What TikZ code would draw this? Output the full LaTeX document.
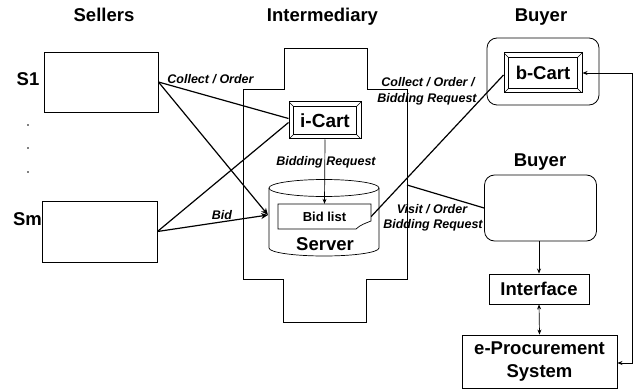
\documentclass[tikz,border=0pt]{standalone}
\usepackage{fontspec}
\setmainfont{Liberation Sans}
\usetikzlibrary{arrows.meta}
\begin{document}
\begin{tikzpicture}[x=1pt,y=-1pt,
  big/.style={font=\fontsize{18.5}{23}\selectfont\bfseries},
  lab/.style={font=\fontsize{12.5}{14}\selectfont\bfseries\itshape, inner sep=0pt, anchor=base},
  box/.style={draw, line width=0.9pt, inner sep=0pt},
  conn/.style={line width=1.2pt},
  thinl/.style={line width=0.7pt},
  tip/.style={-{Stealth[length=7pt,width=6pt]}},
  smalltip/.style={-{Stealth[length=5pt,width=4pt]}},
  bevel/.style={draw, line width=1pt, inner sep=0pt, path picture={
    \draw[line width=0.8pt] ([shift={(4.5pt,-4.5pt)}]path picture bounding box.north west) rectangle ([shift={(-4.5pt,4.5pt)}]path picture bounding box.south east);
    \draw[line width=0.6pt] (path picture bounding box.north west) -- ++(4.5pt,-4.5pt);
    \draw[line width=0.6pt] (path picture bounding box.north east) -- ++(-4.5pt,-4.5pt);
    \draw[line width=0.6pt] (path picture bounding box.south west) -- ++(4.5pt,4.5pt);
    \draw[line width=0.6pt] (path picture bounding box.south east) -- ++(-4.5pt,4.5pt);
  }},
]
\useasboundingbox (0,0) rectangle (639,390);

% titles
\node[big, anchor=base] (tS) at (104,22) {Sellers};
\node[big, anchor=base] (tI) at (322.5,22) {Intermediary};
\node[big, anchor=base] (tB1) at (541,22) {Buyer};
\node[big, anchor=base] (tB2) at (540,167) {Buyer};

% sellers
\node[box, minimum width=114pt, minimum height=60pt] (s1) at (101,82) {};
\node[box, minimum width=115pt, minimum height=61pt] (sm) at (99.5,231.5) {};
\node[big, anchor=base] (s1l) at (28,86) {S1};
\node[big, anchor=base] (sml) at (27.5,225) {Sm};
\fill (28,125) circle (0.9pt);
\fill (28,148) circle (0.9pt);
\fill (28,172) circle (0.9pt);

% intermediary outline
\draw[thinl] (243,89) -- (284,89) -- (284,48) -- (367,48) -- (367,89) -- (407,89)
  -- (407,279) -- (366,279) -- (366,322) -- (283,322) -- (283,279) -- (243,279) -- cycle;

% server cylinder
\draw[thinl] (269,188) -- (269,248) arc[start angle=180, end angle=360, x radius=55pt, y radius=8pt] -- (379,188);
\draw[thinl] (324,188) ellipse [x radius=55pt, y radius=8.5pt];
\node[big, anchor=base] (srv) at (325,250) {Server};
\coordinate (srvin) at (268,215);

% bid list
\node[inner sep=0pt, minimum width=93pt, minimum height=25pt,
      font=\fontsize{13}{14}\selectfont\bfseries] (bidlist) at (324.5,216.5) {Bid list};
\draw[thinl] (278,204) -- (371,204) -- (371,221) .. controls (366,223) and (360,225) .. (356,229) -- (278,229) -- cycle;

% i-Cart
\node[bevel, minimum width=72pt, minimum height=37pt, big, font=\fontsize{19}{20}\selectfont\bfseries] (icart) at (325,120.5) {i-Cart};

% buyers
\node[draw, line width=0.8pt, rounded corners=10pt, minimum width=112pt, minimum height=67pt] (buyerA) at (543,71.5) {};
\node[bevel, minimum width=78pt, minimum height=40pt, big] (bcart) at (543,73) {b-Cart};
\node[draw, line width=0.8pt, rounded corners=10pt, minimum width=112pt, minimum height=66pt] (buyerB) at (540.5,208) {};
\node[box, minimum width=100pt, minimum height=30pt, big] (iface) at (539,289) {Interface};
\node[box, minimum width=155pt, minimum height=53pt, big, align=center] (eproc) at (539.5,361.5) {e-Procurement\\System};

% connectors
\draw[conn] (s1.east) -- ([yshift=2pt]icart.west);
\draw[conn,tip] (s1.east) -- (srvin);
\draw[conn] (sm.east) -- ([yshift=-2pt]icart.west);
\draw[conn,tip] (sm.east) -- (srvin);
\draw[thinl,smalltip] (icart.south) -- (bidlist.north);
\draw[conn] (bidlist.east) -- ([yshift=-2pt]bcart.west);
\coordinate (wall) at (407,185);
\draw[conn] (wall) -- (buyerB.west);
\draw[thinl,smalltip] (iface.north |- buyerB.south) -- (iface.north);
\draw[thinl,{Stealth[length=5pt,width=4pt]}-{Stealth[length=5pt,width=4pt]}] (iface.south) -- (eproc.north);
\coordinate (rtop) at (632,0);
\draw[thinl,{Stealth[length=5pt,width=4pt]}-{Stealth[length=5pt,width=4pt]}] (bcart.east) -- (bcart.east -| rtop) |- ([yshift=-1.5pt]eproc.east);

% labels
\node[lab] (l1) at (210.5,84) {Collect / Order};
\node[lab] (l2) at (326,165) {Bidding Request};
\node[lab] (l3) at (428,87) {Collect / Order /};
\node[lab] (l4) at (427,103) {Bidding Request};
\node[lab] (l5) at (432,213) {Visit / Order};
\node[lab] (l6) at (433,228) {Bidding Request};
\node[lab] (l7) at (222,219) {Bid};
\end{tikzpicture}
\end{document}
